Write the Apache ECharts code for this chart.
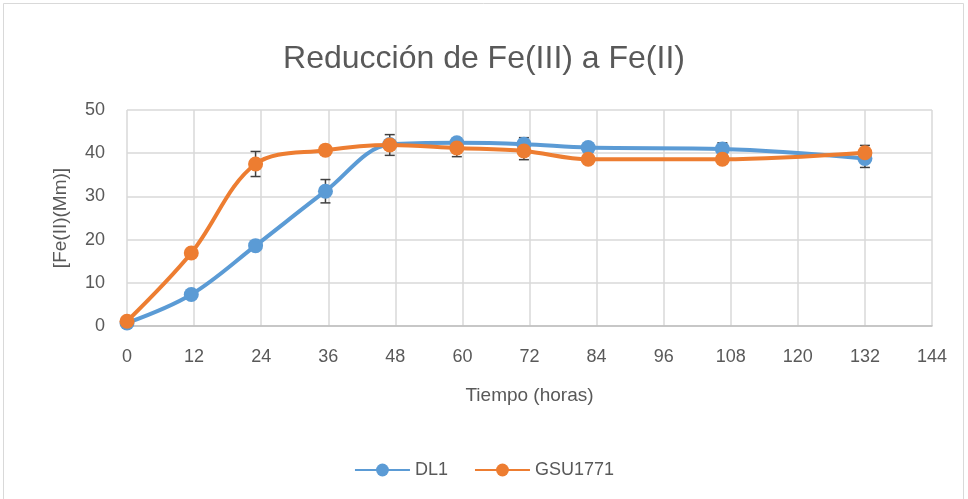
<!DOCTYPE html>
<html>
<head>
<meta charset="utf-8">
<script src="https://cdn.jsdelivr.net/npm/echarts@6/dist/echarts.min.js"></script>
<style>
  html, body { margin: 0; padding: 0; background: #fff; }
  #main { width: 968px; height: 499px; }
</style>
</head>
<body>
<div id="main"></div>
<script>
// tiempo en horas
var timeH = [0, 11.5, 23, 35.5, 47, 59, 71, 82.5, 106.5, 132];
var dl1 = [0.7, 7.3, 18.6, 31.2, 42.0, 42.4, 42.1, 41.3, 41.0, 38.8];
var gsu = [1.1, 16.9, 37.5, 40.7, 41.9, 41.2, 40.5, 38.6, 38.6, 40.1];
var dl1Err = [0, 0, 0, 2.7, 0, 1.0, 1.5, 1.0, 1.4, 2.1];
var gsuErr = [0, 0, 2.9, 0, 2.4, 2.0, 2.0, 0, 0, 1.7];
var xTicks = [0, 12, 24, 36, 48, 60, 72, 84, 96, 108, 120, 132, 144];
var yTicks = [0, 10, 20, 30, 40, 50];

var FONT = '"Liberation Sans", sans-serif';
var TXT = '#595959';

function pairs(xs, ys) {
  var out = [];
  for (var i = 0; i < xs.length; i++) out.push([xs[i], ys[i]]);
  return out;
}
function errs(xs, ys, es) {
  var out = [];
  for (var i = 0; i < xs.length; i++) {
    if (es[i] > 0) out.push([xs[i], ys[i] - es[i], ys[i] + es[i]]);
  }
  return out;
}

function renderErr(params, api) {
  var x = api.value(0);
  var lo = api.coord([x, api.value(1)]);
  var hi = api.coord([x, api.value(2)]);
  var w = 5;
  var st = { stroke: '#404040', lineWidth: 1.5 };
  return {
    type: 'group',
    children: [
      { type: 'line', shape: { x1: hi[0], y1: hi[1], x2: lo[0], y2: lo[1] }, style: st },
      { type: 'line', shape: { x1: hi[0] - w, y1: hi[1], x2: hi[0] + w, y2: hi[1] }, style: st },
      { type: 'line', shape: { x1: lo[0] - w, y1: lo[1], x2: lo[0] + w, y2: lo[1] }, style: st }
    ]
  };
}

var chart = echarts.init(document.getElementById('main'));

var option = {
  backgroundColor: '#fff',
  animation: false,
  graphic: [{
    type: 'rect',
    shape: { x: 3.5, y: 3.5, width: 960, height: 520 },
    style: { fill: 'none', stroke: '#d9d9d9', lineWidth: 1 },
    silent: true
  }],
  title: {
    text: 'Reducción de Fe(III) a Fe(II)',
    left: 'center',
    top: 38,
    textStyle: { fontFamily: FONT, fontSize: 32, fontWeight: 'normal', color: TXT }
  },
  grid: { left: 127, right: 36, top: 110, bottom: 173 },
  xAxis: {
    type: 'value',
    min: 0,
    max: 144,
    interval: 12,
    name: 'Tiempo (horas)',
    nameLocation: 'middle',
    nameGap: 60,
    nameTextStyle: { fontFamily: FONT, fontSize: 19, color: TXT },
    axisLine: { show: true, lineStyle: { color: '#bfbfbf', width: 1.5 } },
    axisTick: { show: false },
    axisLabel: { fontFamily: FONT, fontSize: 18, color: TXT, margin: 22 },
    splitLine: { show: true, lineStyle: { color: '#d9d9d9', width: 1.5 } }
  },
  yAxis: {
    type: 'value',
    min: 0,
    max: 50,
    interval: 10,
    name: '[Fe(II)(Mm)]',
    nameLocation: 'middle',
    nameGap: 57,
    nameTextStyle: { fontFamily: FONT, fontSize: 19, color: TXT },
    axisLine: { show: false },
    axisTick: { show: false },
    axisLabel: { fontFamily: FONT, fontSize: 18, color: TXT, margin: 22 },
    splitLine: { show: true, lineStyle: { color: '#d9d9d9', width: 1.5 } }
  },
  legend: {
    data: ['DL1', 'GSU1771'],
    left: 'center',
    top: 456,
    itemWidth: 55,
    itemHeight: 16,
    itemGap: 26,
    textStyle: { fontFamily: FONT, fontSize: 18, color: TXT }
  },
  series: [
    {
      name: 'errDL1',
      type: 'custom',
      renderItem: renderErr,
      encode: { x: 0, y: [1, 2] },
      data: errs(timeH, dl1, dl1Err),
      z: 1
    },
    {
      name: 'errGSU',
      type: 'custom',
      renderItem: renderErr,
      encode: { x: 0, y: [1, 2] },
      data: errs(timeH, gsu, gsuErr),
      z: 1
    },
    {
      name: 'DL1',
      type: 'line',
      smooth: 0.35,
      data: pairs(timeH, dl1),
      symbol: 'circle',
      symbolSize: 15,
      color: '#5b9bd5',
      lineStyle: { width: 4 },
      z: 3
    },
    {
      name: 'GSU1771',
      type: 'line',
      smooth: 0.35,
      data: pairs(timeH, gsu),
      symbol: 'circle',
      symbolSize: 15,
      color: '#ed7d31',
      lineStyle: { width: 4 },
      z: 4
    }
  ]
};

chart.setOption(option);
</script>
</body>
</html>
